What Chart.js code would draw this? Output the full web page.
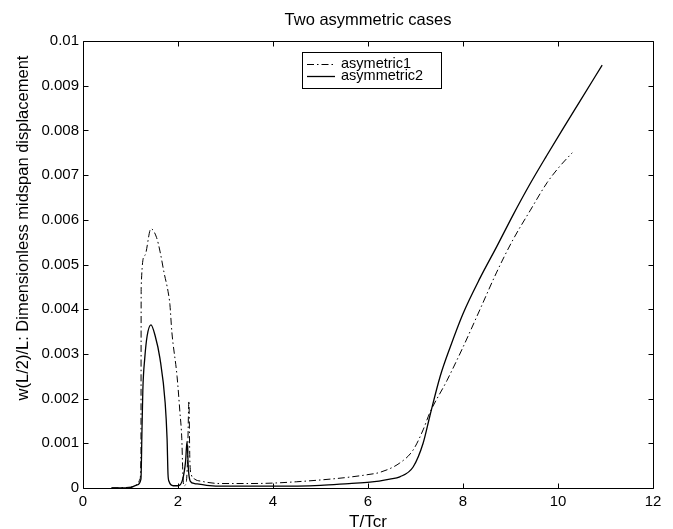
<!DOCTYPE html>
<html>
<head>
<meta charset="utf-8">
<script src="https://cdn.jsdelivr.net/npm/chart.js@4/dist/chart.umd.min.js"></script>
<style>
html,body{margin:0;padding:0;background:#fff;}
#wrap{width:673px;height:529px;position:relative;}
</style>
</head>
<body>
<div id="wrap"><canvas id="c" width="673" height="529"></canvas></div>
<script>
const chartTitle = 'Two asymmetric cases';
const xTitle = 'T/Tcr';
const yTitle = 'w(L/2)/L: Dimensionless midspan displacement';
const seriesNames = ['asymetric1', 'asymmetric2'];
const xTickLabels = ['0', '2', '4', '6', '8', '10', '12'];
const yTickLabels = ['0', '0.001', '0.002', '0.003', '0.004', '0.005', '0.006', '0.007', '0.008', '0.009', '0.01'];

const t1 = [0.6, 1.0, 1.15, 1.2, 1.22, 1.225, 1.3, 1.43, 1.55, 1.62, 1.71, 1.79, 1.83, 1.87, 1.98, 2.04, 2.08, 2.1, 2.12, 2.17, 2.2, 2.23, 2.25, 2.28, 2.35, 2.5, 2.9, 3.5, 4.0, 4.5, 5.0, 5.5, 6.0, 6.25, 6.67, 6.95, 7.16, 7.3, 7.66, 8.0, 8.36, 8.71, 9.05, 9.41, 9.77, 10.04, 10.3];
const w1 = [0, 0.00002, 0.00008, 0.0002, 0.0008, 0.0045, 0.0052, 0.0058, 0.0056, 0.0053, 0.0048, 0.0044, 0.0041, 0.0035, 0.0025, 0.0017, 0.0011, 0.0004, 0.00005, 0.0001, 0.0006, 0.00195, 0.0006, 0.0003, 0.0002, 0.00015, 0.0001, 0.0001, 0.00011, 0.00014, 0.00018, 0.00023, 0.0003, 0.00035, 0.00056, 0.00085, 0.0013, 0.00168, 0.0024, 0.00315, 0.0040, 0.00483, 0.00555, 0.0062, 0.00683, 0.0072, 0.0075];

const t2 = [0.6, 1.0, 1.14, 1.22, 1.24, 1.26, 1.3, 1.35, 1.43, 1.52, 1.62, 1.73, 1.77, 1.79, 1.81, 1.9, 2.0, 2.1, 2.16, 2.19, 2.22, 2.26, 2.35, 2.6, 3.0, 4.0, 5.0, 5.6, 6.04, 6.46, 6.67, 6.95, 7.16, 7.3, 7.52, 7.73, 8.0, 8.36, 8.71, 9.05, 9.41, 9.77, 10.1, 10.46, 10.93];
const w2 = [0, 0.00001, 0.00007, 0.0002, 0.0012, 0.0022, 0.0029, 0.0034, 0.00365, 0.0034, 0.0029, 0.0019, 0.0011, 0.0003, 0.00015, 0.00005, 0.00005, 0.0002, 0.0006, 0.00104, 0.0004, 0.00015, 0.0001, 0.00006, 0.00004, 0.00004, 0.00006, 0.0001, 0.00013, 0.0002, 0.00025, 0.00047, 0.001, 0.0016, 0.0025, 0.00315, 0.0039, 0.0047, 0.0054, 0.0061, 0.0068, 0.00745, 0.00803, 0.00865, 0.00946];

const FONT = '"Liberation Sans", Arial, Helvetica, sans-serif';
Chart.defaults.color = '#000';
Chart.defaults.font.family = FONT;
Chart.defaults.font.size = 15;

const toXY = (xs, ys) => xs.map((x, i) => ({x: x, y: ys[i]}));

const boxPlugin = {
  id: 'boxTicks',
  afterDraw(chart) {
    const ctx = chart.ctx;
    const a = chart.chartArea;
    const xs = chart.scales.x, ys = chart.scales.y;
    const L = Math.round(a.left) + 0.5, R = Math.round(a.right) + 0.5;
    const T = Math.round(a.top) + 0.5, B = Math.round(a.bottom) + 0.5;
    ctx.save();
    ctx.strokeStyle = '#000';
    ctx.lineWidth = 1;
    ctx.beginPath();
    ctx.rect(L, T, R - L, B - T);
    const len = 5;
    xs.ticks.forEach(tk => {
      const px = Math.round(xs.getPixelForValue(tk.value)) + 0.5;
      ctx.moveTo(px, B); ctx.lineTo(px, B - len);
      ctx.moveTo(px, T); ctx.lineTo(px, T + len);
    });
    ys.ticks.forEach(tk => {
      const py = Math.round(ys.getPixelForValue(tk.value)) + 0.5;
      ctx.moveTo(L, py); ctx.lineTo(L + len, py);
      ctx.moveTo(R, py); ctx.lineTo(R - len, py);
    });
    ctx.stroke();

    // y axis title
    ctx.save();
    ctx.fillStyle = '#000';
    ctx.font = '16.5px ' + FONT;
    ctx.textAlign = 'center';
    ctx.textBaseline = 'middle';
    ctx.translate(23, 228);
    ctx.rotate(-Math.PI / 2);
    ctx.fillText(yTitle, 0, 0);
    ctx.restore();

    // legend box
    const bx = 302.5, by = 52.5, bw = 139, bh = 36;
    ctx.fillStyle = '#fff';
    ctx.fillRect(bx, by, bw, bh);
    ctx.strokeRect(bx, by, bw, bh);
    ctx.font = '14.5px ' + FONT;
    ctx.textBaseline = 'middle';
    ctx.textAlign = 'left';
    chart.data.datasets.forEach((ds, i) => {
      const y = 64 + i * 12;
      ctx.save();
      ctx.strokeStyle = ds.borderColor;
      ctx.lineWidth = ds.borderWidth;
      ctx.setLineDash(ds.borderDash || []);
      ctx.beginPath();
      ctx.moveTo(307, y + 0.5); ctx.lineTo(335, y + 0.5);
      ctx.stroke();
      ctx.restore();
      ctx.fillStyle = '#000';
      ctx.fillText(ds.label, 341, y);
    });
    ctx.restore();
  }
};

new Chart(document.getElementById('c'), {
  type: 'line',
  data: {
    datasets: [
      {label: seriesNames[0], data: toXY(t1, w1), borderColor: '#000', borderWidth: 1, borderDash: [7, 3, 1.5, 3], pointRadius: 0, cubicInterpolationMode: 'monotone', fill: false},
      {label: seriesNames[1], data: toXY(t2, w2), borderColor: '#000', borderWidth: 1.3, pointRadius: 0, cubicInterpolationMode: 'monotone', fill: false}
    ]
  },
  options: {
    responsive: false,
    animation: false,
    layout: {padding: {left: 0, right: 20, top: 0, bottom: 0}},
    plugins: {
      legend: {display: false},
      tooltip: {enabled: false},
      title: {display: true, fullSize: false, text: chartTitle, color: '#000', font: {size: 16.5, weight: 'normal', family: FONT}, padding: {top: 11, bottom: 10.2}}
    },
    scales: {
      x: {
        type: 'linear', min: 0, max: 12,
        grid: {display: false, drawTicks: false},
        border: {display: false},
        ticks: {stepSize: 2, padding: 5, maxRotation: 0, callback: (v, i) => xTickLabels[i]},
        title: {display: true, text: xTitle, font: {size: 17}, padding: {top: 0, bottom: -3.5}},
        afterFit: s => { s.height = 41; }
      },
      y: {
        type: 'linear', min: 0, max: 0.01,
        grid: {display: false, drawTicks: false},
        border: {display: false},
        ticks: {stepSize: 0.001, padding: 4, callback: (v, i) => yTickLabels[i]},
        title: {display: false},
        afterFit: s => { s.width = 83; }
      }
    }
  },
  plugins: [boxPlugin]
});
</script>
</body>
</html>
